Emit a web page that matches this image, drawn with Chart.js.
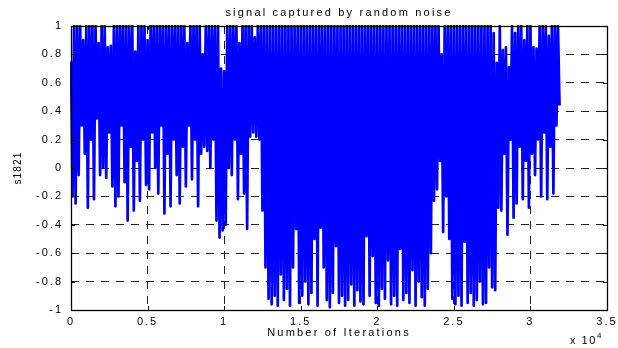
<!DOCTYPE html>
<html>
<head>
<meta charset="utf-8">
<title>signal captured by random noise</title>
<script src="https://cdn.jsdelivr.net/npm/chart.js@4.4.0/dist/chart.umd.min.js"></script>
<style>
  html, body { margin: 0; padding: 0; background: #fff; }
  #wrap { width: 618px; height: 348px; }
</style>
</head>
<body>
<div id="wrap"><canvas id="noiseChart" width="618" height="348"></canvas></div>
<script>
// one sample every 100 iterations (0 .. 31900)
const iterStep = 100;

// s1821 values, 10 samples (= 1000 iterations) per row
const s1821 = [
  0.75, -0.2, 1, -0.25, 1, -0.05, 1, 0.3, 0.9, 0.1,
  1, -0.28, 1, 0.2, 1, -0.22, 1, 0.35, 0.88, -0.05,
  1, 0.0, 1, -0.07, 0.85, 0.25, 0.86, -0.13, 1, -0.27,
  1, -0.2, 1, 0.3, 1, -0.1, 1, -0.37, 1, 0.15,
  1, -0.3, 0.82, 0.05, 1, -0.23, 1, 0.2, 1, -0.12,
  0.9, -0.15, 1, 0.25, 1, 0.0, 1, -0.18, 1, 0.3,
  1, -0.32, 1, 0.1, 1, -0.27, 1, 0.2, 1, -0.05,
  1, -0.25, 1, 0.15, 1, -0.13, 0.88, 0.3, 1, -0.08,
  1, 0.2, 1, -0.27, 1, 0.1, 0.8, 0.15, 1, 0.12,
  1, 0.0, 1, 0.2, 1, -0.37, 1, -0.49, 0.7, -0.44,
  0.68, -0.4, 1, 0.0, 1, -0.05, 1, 0.2, 1, -0.22,
  0.88, 0.1, 1, -0.18, 1, -0.43, 1, 0.22, 1, 0.25,
  0.92, 0.22, 1, 0.2, 1, -0.3, 1, -0.7, 1, -0.92,
  1, -0.96, 1, -0.9, 1, -0.97, 1, -0.75, 1, -0.93,
  1, -0.85, 1, -0.97, 1, -0.7, 1, -0.43, 1, -0.95,
  1, -0.9, 1, -0.8, 1, -0.96, 1, -0.88, 1, -0.5,
  1, -0.97, 1, -0.42, 1, -0.7, 1, -0.93, 1, -0.98,
  1, -0.88, 1, -0.55, 1, -0.95, 1, -0.9, 1, -0.97,
  1, -0.93, 1, -0.82, 1, -0.97, 1, -0.86, 1, -0.94,
  1, -0.96, 1, -0.48, 1, -0.9, 1, -0.62, 1, -0.95,
  1, -0.97, 1, -0.85, 1, -0.92, 1, -0.65, 1, -0.96,
  1, -0.9, 1, -0.97, 1, -0.57, 1, -0.93, 1, -0.88,
  1, -0.95, 1, -0.72, 1, -0.97, 1, -0.8, 1, -0.91,
  1, -0.97, 1, -0.85, 1, -0.6, 1, -0.23, 1, -0.15,
  1, 0.05, 0.8, -0.45, 1, -0.2, 1, -0.5, 1, -0.92,
  1, -0.96, 1, -0.9, 1, -0.97, 1, -0.52, 1, -0.95,
  1, -0.88, 1, -0.97, 1, -0.93, 1, -0.8, 1, -0.96,
  1, -0.95, 1, -0.7, 1, -0.84, 0.95, -0.86, 0.74, -0.28,
  1, -0.3, 0.83, 0.1, 0.85, -0.47, 0.71, 0.2, 1, -0.35,
  0.95, -0.25, 1, 0.15, 1, -0.22, 0.9, 0.05, 1, -0.28,
  1, 0.1, 0.85, -0.05, 0.84, 0.2, 1, -0.2, 1, 0.25,
  1, -0.22, 0.93, 0.15, 1, -0.18, 1, 0.3, 1, 0.44
];

const xTickLabels = ['0', '0.5', '1', '1.5', '2', '2.5', '3', '3.5'];
const yTickLabels = ['-1', '-0.8', '-0.6', '-0.4', '-0.2', '0', '0.2', '0.4', '0.6', '0.8', '1'];

const titleText = 'signal captured by random noise';
const xTitle = 'Number of Iterations';
const yTitle = 's1821';

const FONT = '"Liberation Sans", Arial, Helvetica, sans-serif';

// MATLAB-ish frame: box, inward ticks and the text around the axes
const matlabFrame = {
  id: 'matlabFrame',
  beforeDraw(chart) {
    chart.ctx.letterSpacing = '2px';
  },
  afterDraw(chart) {
    const { ctx, chartArea: a, scales } = chart;
    ctx.save();
    ctx.strokeStyle = '#000';
    ctx.lineWidth = 1;
    ctx.setLineDash([]);
    ctx.beginPath();
    scales.x.ticks.forEach(t => {
      const px = Math.round(scales.x.getPixelForValue(t.value)) + 0.5;
      ctx.moveTo(px, a.bottom); ctx.lineTo(px, a.bottom - 4);
      ctx.moveTo(px, a.top); ctx.lineTo(px, a.top + 4);
    });
    scales.y.ticks.forEach(t => {
      const py = Math.round(scales.y.getPixelForValue(t.value)) + 0.5;
      ctx.moveTo(a.left, py); ctx.lineTo(a.left + 4, py);
      ctx.moveTo(a.right, py); ctx.lineTo(a.right - 4, py);
    });
    ctx.stroke();
    ctx.lineWidth = 1.3;
    ctx.strokeRect(Math.round(a.left) + 0.5, Math.round(a.top) + 0.5,
                   Math.round(a.right - a.left), Math.round(a.bottom - a.top));

    ctx.fillStyle = '#000';
    ctx.letterSpacing = '2.2px';
    ctx.font = '11px ' + FONT;
    ctx.textAlign = 'center';
    ctx.textBaseline = 'middle';
    const cx = (a.left + a.right) / 2;
    ctx.fillText(titleText, cx, 13);
    ctx.fillText(xTitle, cx, 333);

    // x 10^4 multiplier
    ctx.textAlign = 'left';
    ctx.textBaseline = 'alphabetic';
    ctx.letterSpacing = '1.5px';
    ctx.fillText('x 10', 570, 344);
    ctx.font = '8px ' + FONT;
    ctx.fillText('4', 597, 338);

    // y title, rotated
    ctx.translate(18, 168);
    ctx.rotate(-Math.PI / 2);
    ctx.font = '10px ' + FONT;
    ctx.letterSpacing = '1.2px';
    ctx.textAlign = 'center';
    ctx.textBaseline = 'middle';
    ctx.fillText(yTitle, 0, 0);
    ctx.restore();
  }
};

new Chart(document.getElementById('noiseChart'), {
  type: 'line',
  data: {
    datasets: [{
      label: yTitle,
      data: s1821.map((v, i) => ({ x: i * iterStep, y: v })),
      borderColor: '#0000ff',
      borderWidth: 2.7,
      borderJoinStyle: 'round',
      pointRadius: 0,
      tension: 0,
      fill: false,
      clip: 1
    }]
  },
  options: {
    responsive: false,
    animation: false,
    devicePixelRatio: 1,
    events: [],
    layout: { padding: { left: 0, right: 11, top: 26, bottom: 0 } },
    plugins: {
      legend: { display: false },
      tooltip: { enabled: false },
      title: { display: false }
    },
    scales: {
      x: {
        type: 'linear',
        min: 0,
        max: 35000,
        grid: { color: '#222', lineWidth: 1, drawTicks: false },
        border: { display: false, dash: [8, 7] },
        ticks: {
          stepSize: 5000,
          autoSkip: false,
          maxRotation: 0,
          padding: 5,
          color: '#000',
          font: { family: FONT, size: 11 },
          callback: (v, i) => xTickLabels[i]
        },
        afterFit(scale) {
          scale.height = 38;
          scale.paddingLeft = 0;
          scale.paddingRight = 0;
        }
      },
      y: {
        min: -1,
        max: 1,
        grid: { color: '#222', lineWidth: 1, drawTicks: false },
        border: { display: false, dash: [8, 7] },
        ticks: {
          stepSize: 0.2,
          autoSkip: false,
          padding: 8,
          color: '#000',
          font: { family: FONT, size: 11 },
          callback: (v, i) => yTickLabels[i]
        },
        afterFit(scale) {
          scale.width = 71;
          scale.paddingTop = 0;
          scale.paddingBottom = 0;
        }
      }
    }
  },
  plugins: [matlabFrame]
});
</script>
</body>
</html>
